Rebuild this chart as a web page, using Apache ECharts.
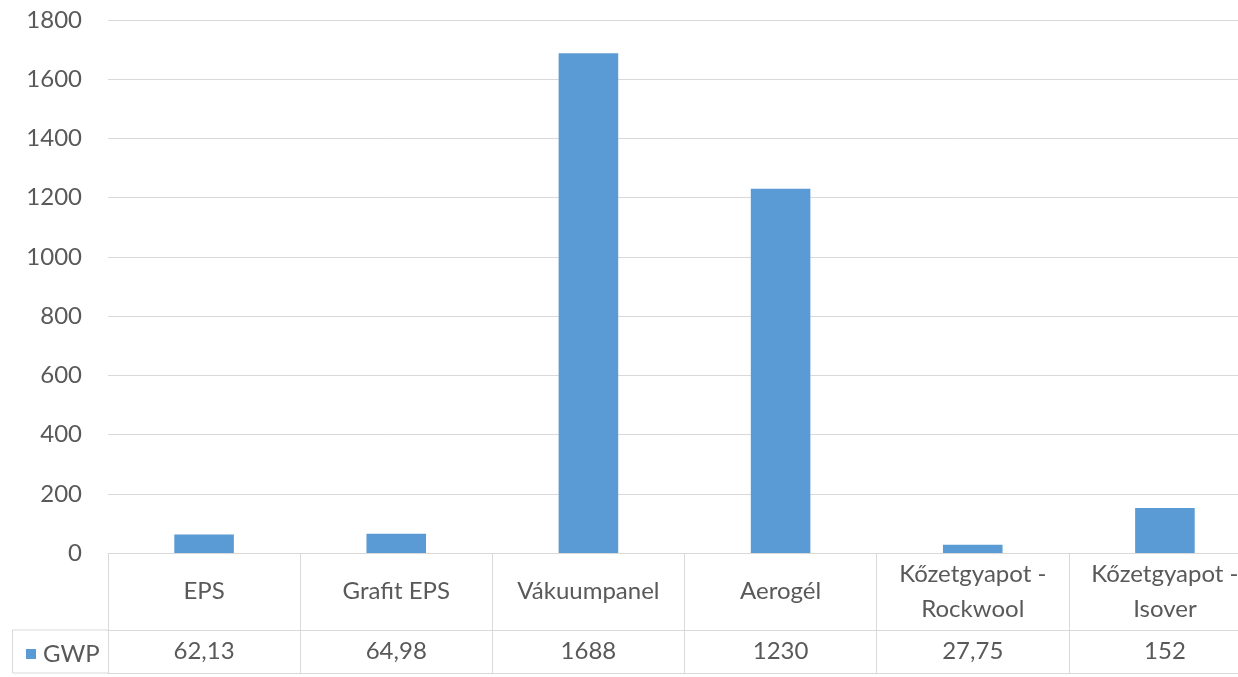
<!DOCTYPE html>
<html>
<head>
<meta charset="utf-8">
<script src="https://cdn.jsdelivr.net/npm/echarts@6/dist/echarts.min.js"></script>
<style>
  html, body { margin: 0; padding: 0; background: #ffffff; }
  #chart { width: 1238px; height: 677px; }
</style>
</head>
<body>
<div id="chart"></div>
<script>
// GWP of insulation materials, bar chart with an attached data table
const categories = ['EPS', 'Grafit EPS', 'Vákuumpanel', 'Aerogél', 'Kőzetgyapot - Rockwool', 'Kőzetgyapot - Isover'];
const seriesName = 'GWP';
const gwpValues = [62.13, 64.98, 1688, 1230, 27.75, 152];
const yTicks = { min: 0, max: 1800, step: 200 };

const FONT = 'Lato, "Open Sans", sans-serif';
const FS = 24;
const TEXT = '#595959';
const LINE = '#D9D9D9';
const BAR = '#5B9BD5';

// Hungarian decimal comma
const fmt = v => String(v).replace('.', ',');
const wrap = s => s.replace(' - ', ' -\n');

const chart = echarts.init(document.getElementById('chart'), null, { renderer: 'canvas' });

const gridTop = 20, gridLeft = 108, gridH = 533, gridW = 1153;
const headerH = 77, rowH = 43;

chart.setOption({
  animation: false,
  backgroundColor: '#ffffff',
  textStyle: { fontFamily: FONT },
  grid: { left: gridLeft, top: gridTop, width: gridW, height: gridH, outerBoundsMode: 'none', containLabel: false },
  legend: {
    data: [seriesName],
    left: 21, top: 637,
    icon: 'rect', itemWidth: 10, itemHeight: 10, itemGap: 0,
    textStyle: { color: TEXT, fontSize: FS, fontFamily: FONT, padding: [0, 0, 0, 2] },
    selectedMode: false
  },
  xAxis: [
    {
      // header row of the table: category names, cell borders as ticks
      type: 'category', data: categories, position: 'bottom',
      axisLine: { show: true, lineStyle: { color: LINE, width: 1 } },
      axisTick: { show: true, inside: false, length: headerH + rowH, lineStyle: { color: LINE, width: 1 } },
      axisLabel: {
        interval: 0, margin: headerH / 2, verticalAlign: 'middle',
        color: TEXT, fontSize: FS, fontFamily: FONT, lineHeight: 35,
        formatter: v => wrap(v)
      }
    },
    {
      // value row of the table
      type: 'category', data: categories, position: 'bottom', offset: headerH,
      axisLine: { show: true, lineStyle: { color: LINE, width: 1 } },
      axisTick: { show: false },
      axisLabel: {
        interval: 0, margin: rowH / 2, verticalAlign: 'middle',
        color: TEXT, fontSize: FS, fontFamily: FONT,
        formatter: (v, i) => fmt(gwpValues[i])
      }
    },
    {
      // bottom border of the table
      type: 'category', data: categories, position: 'bottom', offset: headerH + rowH,
      axisLine: { show: true, lineStyle: { color: LINE, width: 1 } },
      axisTick: { show: false },
      axisLabel: { show: false }
    }
  ],
  yAxis: {
    type: 'value', min: yTicks.min, max: yTicks.max, interval: yTicks.step,
    axisLine: { show: false }, axisTick: { show: false },
    axisLabel: { color: TEXT, fontSize: FS, fontFamily: FONT, margin: 26, formatter: v => String(v) },
    splitLine: { show: true, lineStyle: { color: LINE, width: 1 } }
  },
  series: [{
    name: seriesName, type: 'bar', data: gwpValues, xAxisIndex: 0,
    barWidth: '31%',
    itemStyle: { color: BAR }
  }],
  graphic: [{
    // legend cell of the table, left of the plot
    type: 'polyline', silent: true,
    shape: { points: [[gridLeft, gridTop + gridH + headerH], [12.5, gridTop + gridH + headerH], [12.5, gridTop + gridH + headerH + rowH], [gridLeft, gridTop + gridH + headerH + rowH]] },
    style: { stroke: LINE, lineWidth: 1, fill: null }
  }]
});
</script>
</body>
</html>
